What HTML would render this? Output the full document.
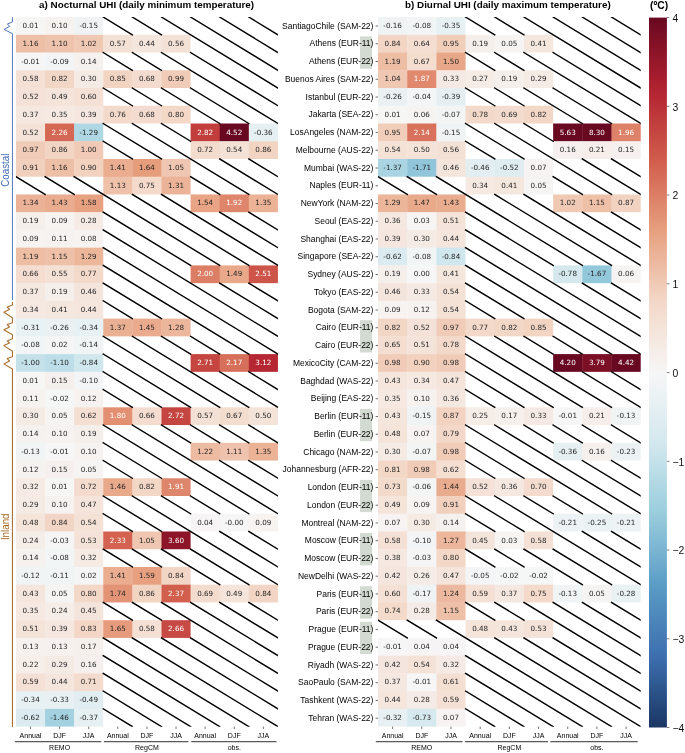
<!DOCTYPE html>
<html lang="en"><head><meta charset="utf-8"><title>UHI heatmaps</title>
<style>html,body{margin:0;padding:0;background:#fff}svg{display:block}</style>
</head><body>
<svg width="685" height="753" viewBox="0 0 685 753">
<rect width="685" height="753" fill="#fff"/>
<g><rect x="15.93" y="17.07" width="29.46" height="18.09" fill="#f6f6f5"/><rect x="45.04" y="17.07" width="29.46" height="18.09" fill="#f6f2f0"/><rect x="74.15" y="17.07" width="29.11" height="18.09" fill="#eff3f4"/><rect x="15.93" y="34.81" width="29.46" height="18.09" fill="#eebfa7"/><rect x="45.04" y="34.81" width="29.46" height="18.09" fill="#eec3ad"/><rect x="74.15" y="34.81" width="29.46" height="18.09" fill="#f0c9b4"/><rect x="103.26" y="34.81" width="29.46" height="17.74" fill="#f4e1d5"/><rect x="132.37" y="34.81" width="29.46" height="17.74" fill="#f4e5dd"/><rect x="161.49" y="34.81" width="29.11" height="17.74" fill="#f4e1d6"/><rect x="15.93" y="52.55" width="29.46" height="18.09" fill="#f6f6f6"/><rect x="45.04" y="52.55" width="29.46" height="18.09" fill="#f2f4f5"/><rect x="74.15" y="52.55" width="29.11" height="18.09" fill="#f5f1ee"/><rect x="15.93" y="70.28" width="29.46" height="18.09" fill="#f4e0d5"/><rect x="45.04" y="70.28" width="29.46" height="18.09" fill="#f3d7c6"/><rect x="74.15" y="70.28" width="29.46" height="18.09" fill="#f5ebe5"/><rect x="103.26" y="70.28" width="29.46" height="17.74" fill="#f2d4c3"/><rect x="132.37" y="70.28" width="29.46" height="17.74" fill="#f3dccf"/><rect x="161.49" y="70.28" width="29.11" height="17.74" fill="#f0cbb7"/><rect x="15.93" y="88.02" width="29.46" height="18.09" fill="#f4e2d8"/><rect x="45.04" y="88.02" width="29.46" height="18.09" fill="#f4e4da"/><rect x="74.15" y="88.02" width="29.11" height="18.09" fill="#f4e0d4"/><rect x="15.93" y="105.76" width="29.46" height="18.09" fill="#f5e8e1"/><rect x="45.04" y="105.76" width="29.46" height="18.09" fill="#f5e9e2"/><rect x="74.15" y="105.76" width="29.46" height="18.09" fill="#f5e7e0"/><rect x="103.26" y="105.76" width="29.46" height="17.74" fill="#f3daca"/><rect x="132.37" y="105.76" width="29.46" height="17.74" fill="#f3dccf"/><rect x="161.49" y="105.76" width="29.11" height="17.74" fill="#f3d8c8"/><rect x="15.93" y="123.5" width="29.46" height="18.09" fill="#f4e2d8"/><rect x="45.04" y="123.5" width="29.46" height="18.09" fill="#d56855"/><rect x="74.15" y="123.5" width="29.11" height="18.09" fill="#afd7e4"/><rect x="190.6" y="123.5" width="29.46" height="18.09" fill="#c13e3d"/><rect x="219.71" y="123.5" width="29.46" height="18.09" fill="#680821"/><rect x="248.82" y="123.5" width="29.11" height="18.09" fill="#e6f0f2"/><rect x="15.93" y="141.24" width="29.46" height="18.09" fill="#f0ccb8"/><rect x="45.04" y="141.24" width="29.46" height="18.09" fill="#f2d4c3"/><rect x="74.15" y="141.24" width="29.11" height="18.09" fill="#f0cab6"/><rect x="190.6" y="141.24" width="29.46" height="17.74" fill="#f3dbcd"/><rect x="219.71" y="141.24" width="29.46" height="17.74" fill="#f4e2d7"/><rect x="248.82" y="141.24" width="29.11" height="17.74" fill="#f2d4c3"/><rect x="15.93" y="158.98" width="29.46" height="17.74" fill="#f1d0be"/><rect x="45.04" y="158.98" width="29.46" height="17.74" fill="#eebfa7"/><rect x="74.15" y="158.98" width="29.46" height="17.74" fill="#f2d1bf"/><rect x="103.26" y="158.98" width="29.46" height="18.09" fill="#eaad90"/><rect x="132.37" y="158.98" width="29.46" height="18.09" fill="#e69d7c"/><rect x="161.49" y="158.98" width="29.11" height="18.09" fill="#efc6b1"/><rect x="103.26" y="176.71" width="29.46" height="17.74" fill="#eec1aa"/><rect x="132.37" y="176.71" width="29.46" height="17.74" fill="#f3dacb"/><rect x="161.49" y="176.71" width="29.11" height="17.74" fill="#ebb499"/><rect x="15.93" y="194.45" width="29.46" height="18.09" fill="#ebb297"/><rect x="45.04" y="194.45" width="29.46" height="18.09" fill="#eaac8f"/><rect x="74.15" y="194.45" width="29.11" height="18.09" fill="#e7a181"/><rect x="190.6" y="194.45" width="29.46" height="17.74" fill="#e8a484"/><rect x="219.71" y="194.45" width="29.46" height="17.74" fill="#de856b"/><rect x="248.82" y="194.45" width="29.11" height="17.74" fill="#ebb296"/><rect x="15.93" y="212.19" width="29.46" height="18.09" fill="#f5efeb"/><rect x="45.04" y="212.19" width="29.46" height="18.09" fill="#f6f3f1"/><rect x="74.15" y="212.19" width="29.11" height="18.09" fill="#f5ebe6"/><rect x="15.93" y="229.93" width="29.46" height="18.09" fill="#f6f3f1"/><rect x="45.04" y="229.93" width="29.46" height="18.09" fill="#f6f2f0"/><rect x="74.15" y="229.93" width="29.11" height="18.09" fill="#f6f3f1"/><rect x="15.93" y="247.67" width="29.46" height="18.09" fill="#edbda4"/><rect x="45.04" y="247.67" width="29.46" height="18.09" fill="#eec0a8"/><rect x="74.15" y="247.67" width="29.11" height="18.09" fill="#ecb69b"/><rect x="15.93" y="265.41" width="29.46" height="18.09" fill="#f4ddd0"/><rect x="45.04" y="265.41" width="29.46" height="18.09" fill="#f4e1d6"/><rect x="74.15" y="265.41" width="29.11" height="18.09" fill="#f3d9ca"/><rect x="190.6" y="265.41" width="29.46" height="17.74" fill="#dc7e66"/><rect x="219.71" y="265.41" width="29.46" height="17.74" fill="#e9a889"/><rect x="248.82" y="265.41" width="29.11" height="17.74" fill="#cd5448"/><rect x="15.93" y="283.14" width="29.46" height="18.09" fill="#f5e8e1"/><rect x="45.04" y="283.14" width="29.46" height="18.09" fill="#f5efeb"/><rect x="74.15" y="283.14" width="29.11" height="18.09" fill="#f4e5dc"/><rect x="15.93" y="300.88" width="29.46" height="18.09" fill="#f5e9e2"/><rect x="45.04" y="300.88" width="29.46" height="18.09" fill="#f4e7de"/><rect x="74.15" y="300.88" width="29.11" height="18.09" fill="#f4e5dd"/><rect x="15.93" y="318.62" width="29.46" height="18.09" fill="#e8f1f3"/><rect x="45.04" y="318.62" width="29.46" height="18.09" fill="#ebf1f3"/><rect x="74.15" y="318.62" width="29.46" height="18.09" fill="#e7f0f3"/><rect x="103.26" y="318.62" width="29.46" height="17.74" fill="#eab094"/><rect x="132.37" y="318.62" width="29.46" height="17.74" fill="#e9aa8d"/><rect x="161.49" y="318.62" width="29.11" height="17.74" fill="#ecb69c"/><rect x="15.93" y="336.36" width="29.46" height="18.09" fill="#f2f5f5"/><rect x="45.04" y="336.36" width="29.46" height="18.09" fill="#f6f5f5"/><rect x="74.15" y="336.36" width="29.11" height="18.09" fill="#f0f4f5"/><rect x="15.93" y="354.1" width="29.46" height="18.09" fill="#c4e1ea"/><rect x="45.04" y="354.1" width="29.46" height="18.09" fill="#bddee8"/><rect x="74.15" y="354.1" width="29.11" height="18.09" fill="#d0e7ed"/><rect x="190.6" y="354.1" width="29.46" height="17.74" fill="#c54641"/><rect x="219.71" y="354.1" width="29.46" height="17.74" fill="#d7705b"/><rect x="248.82" y="354.1" width="29.11" height="17.74" fill="#b52833"/><rect x="15.93" y="371.83" width="29.46" height="18.09" fill="#f6f6f5"/><rect x="45.04" y="371.83" width="29.46" height="18.09" fill="#f5f0ed"/><rect x="74.15" y="371.83" width="29.11" height="18.09" fill="#f2f4f5"/><rect x="15.93" y="389.57" width="29.46" height="18.09" fill="#f6f2f0"/><rect x="45.04" y="389.57" width="29.46" height="18.09" fill="#f5f6f6"/><rect x="74.15" y="389.57" width="29.11" height="18.09" fill="#f6f2ef"/><rect x="15.93" y="407.31" width="29.46" height="18.09" fill="#f5ebe5"/><rect x="45.04" y="407.31" width="29.46" height="18.09" fill="#f6f4f3"/><rect x="74.15" y="407.31" width="29.46" height="18.09" fill="#f4dfd2"/><rect x="103.26" y="407.31" width="29.46" height="17.74" fill="#e28f72"/><rect x="132.37" y="407.31" width="29.46" height="17.74" fill="#f4ddd0"/><rect x="161.49" y="407.31" width="29.46" height="17.74" fill="#c54541"/><rect x="190.6" y="407.31" width="29.46" height="17.74" fill="#f4e1d5"/><rect x="219.71" y="407.31" width="29.46" height="17.74" fill="#f3ddcf"/><rect x="248.82" y="407.31" width="29.11" height="17.74" fill="#f4e3d9"/><rect x="15.93" y="425.05" width="29.46" height="18.09" fill="#f5f1ee"/><rect x="45.04" y="425.05" width="29.46" height="18.09" fill="#f6f2f0"/><rect x="74.15" y="425.05" width="29.11" height="18.09" fill="#f5efeb"/><rect x="15.93" y="442.79" width="29.46" height="18.09" fill="#f0f4f5"/><rect x="45.04" y="442.79" width="29.46" height="18.09" fill="#f6f6f6"/><rect x="74.15" y="442.79" width="29.11" height="18.09" fill="#f6f2f0"/><rect x="190.6" y="442.79" width="29.46" height="17.74" fill="#edbba2"/><rect x="219.71" y="442.79" width="29.46" height="17.74" fill="#eec2ac"/><rect x="248.82" y="442.79" width="29.11" height="17.74" fill="#ebb296"/><rect x="15.93" y="460.53" width="29.46" height="18.09" fill="#f6f2ef"/><rect x="45.04" y="460.53" width="29.46" height="18.09" fill="#f5f0ed"/><rect x="74.15" y="460.53" width="29.11" height="18.09" fill="#f6f4f3"/><rect x="15.93" y="478.26" width="29.46" height="18.09" fill="#f5eae4"/><rect x="45.04" y="478.26" width="29.46" height="18.09" fill="#f6f6f5"/><rect x="74.15" y="478.26" width="29.46" height="18.09" fill="#f3dbcd"/><rect x="103.26" y="478.26" width="29.46" height="17.74" fill="#e9aa8c"/><rect x="132.37" y="478.26" width="29.46" height="17.74" fill="#f3d7c6"/><rect x="161.49" y="478.26" width="29.11" height="17.74" fill="#de866b"/><rect x="15.93" y="496" width="29.46" height="18.09" fill="#f5ebe5"/><rect x="45.04" y="496" width="29.46" height="18.09" fill="#f6f2f0"/><rect x="74.15" y="496" width="29.11" height="18.09" fill="#f4e4db"/><rect x="15.93" y="513.74" width="29.46" height="18.09" fill="#f4e4da"/><rect x="45.04" y="513.74" width="29.46" height="18.09" fill="#f2d5c4"/><rect x="74.15" y="513.74" width="29.11" height="18.09" fill="#f4e2d7"/><rect x="190.6" y="513.74" width="29.46" height="17.74" fill="#f6f4f4"/><rect x="219.71" y="513.74" width="29.46" height="17.74" fill="#f6f6f6"/><rect x="248.82" y="513.74" width="29.11" height="17.74" fill="#f6f3f1"/><rect x="15.93" y="531.48" width="29.46" height="18.09" fill="#f5ede8"/><rect x="45.04" y="531.48" width="29.46" height="18.09" fill="#f5f5f6"/><rect x="74.15" y="531.48" width="29.46" height="18.09" fill="#f4e2d8"/><rect x="103.26" y="531.48" width="29.46" height="17.74" fill="#d36250"/><rect x="132.37" y="531.48" width="29.46" height="17.74" fill="#efc6b1"/><rect x="161.49" y="531.48" width="29.11" height="17.74" fill="#8d1528"/><rect x="15.93" y="549.22" width="29.46" height="18.09" fill="#f5f1ee"/><rect x="45.04" y="549.22" width="29.46" height="18.09" fill="#f2f5f5"/><rect x="74.15" y="549.22" width="29.11" height="18.09" fill="#f5eae4"/><rect x="15.93" y="566.96" width="29.46" height="18.09" fill="#f1f4f5"/><rect x="45.04" y="566.96" width="29.46" height="18.09" fill="#f1f4f5"/><rect x="74.15" y="566.96" width="29.46" height="18.09" fill="#f6f5f5"/><rect x="103.26" y="566.96" width="29.46" height="18.09" fill="#eaad90"/><rect x="132.37" y="566.96" width="29.46" height="18.09" fill="#e7a180"/><rect x="161.49" y="566.96" width="29.11" height="18.09" fill="#f2d5c4"/><rect x="15.93" y="584.69" width="29.46" height="18.09" fill="#f4e6dd"/><rect x="45.04" y="584.69" width="29.46" height="18.09" fill="#f6f4f3"/><rect x="74.15" y="584.69" width="29.46" height="18.09" fill="#f3d8c8"/><rect x="103.26" y="584.69" width="29.46" height="17.74" fill="#e39476"/><rect x="132.37" y="584.69" width="29.46" height="17.74" fill="#f2d4c3"/><rect x="161.49" y="584.69" width="29.46" height="17.74" fill="#d25f4e"/><rect x="190.6" y="584.69" width="29.46" height="17.74" fill="#f3dcce"/><rect x="219.71" y="584.69" width="29.46" height="17.74" fill="#f4e4da"/><rect x="248.82" y="584.69" width="29.11" height="17.74" fill="#f2d5c4"/><rect x="15.93" y="602.43" width="29.46" height="18.09" fill="#f5e9e2"/><rect x="45.04" y="602.43" width="29.46" height="18.09" fill="#f5ede8"/><rect x="74.15" y="602.43" width="29.11" height="18.09" fill="#f4e5dc"/><rect x="15.93" y="620.17" width="29.46" height="18.09" fill="#f4e3d9"/><rect x="45.04" y="620.17" width="29.46" height="18.09" fill="#f5e7e0"/><rect x="74.15" y="620.17" width="29.46" height="18.09" fill="#f3d6c5"/><rect x="103.26" y="620.17" width="29.46" height="17.74" fill="#e69c7c"/><rect x="132.37" y="620.17" width="29.46" height="17.74" fill="#f4e0d5"/><rect x="161.49" y="620.17" width="29.11" height="17.74" fill="#c74943"/><rect x="15.93" y="637.91" width="29.46" height="18.09" fill="#f6f1ef"/><rect x="45.04" y="637.91" width="29.46" height="18.09" fill="#f6f1ef"/><rect x="74.15" y="637.91" width="29.11" height="18.09" fill="#f5f0ec"/><rect x="15.93" y="655.65" width="29.46" height="18.09" fill="#f5eee9"/><rect x="45.04" y="655.65" width="29.46" height="18.09" fill="#f5ebe5"/><rect x="74.15" y="655.65" width="29.11" height="18.09" fill="#f5f0ed"/><rect x="15.93" y="673.39" width="29.46" height="18.09" fill="#f4e0d4"/><rect x="45.04" y="673.39" width="29.46" height="18.09" fill="#f4e5dd"/><rect x="74.15" y="673.39" width="29.11" height="18.09" fill="#f3dbcd"/><rect x="15.93" y="691.12" width="29.46" height="18.09" fill="#e7f0f3"/><rect x="45.04" y="691.12" width="29.46" height="18.09" fill="#e8f0f3"/><rect x="74.15" y="691.12" width="29.11" height="18.09" fill="#e1edf1"/><rect x="15.93" y="708.86" width="29.46" height="17.74" fill="#dbebf0"/><rect x="45.04" y="708.86" width="29.46" height="17.74" fill="#a3d1e0"/><rect x="74.15" y="708.86" width="29.11" height="17.74" fill="#e6f0f2"/></g>
<clipPath id="ax1"><rect x="15.93" y="16.92" width="262" height="709.83"/></clipPath>
<path clip-path="url(#ax1)" d="M103.26 17.07L132.37 34.81M132.37 17.07L161.49 34.81M161.49 17.07L277.93 88.02M190.6 17.07L277.93 70.28M219.71 17.07L277.93 52.55M248.82 17.07L277.93 34.81M103.26 52.55L132.37 70.28M132.37 52.55L161.49 70.28M161.49 52.55L277.93 123.5M190.6 52.55L277.93 105.76M103.26 88.02L132.37 105.76M132.37 88.02L161.49 105.76M161.49 88.02L219.71 123.5M190.6 88.02L248.82 123.5M103.26 123.5L161.49 158.98M132.37 123.5L248.82 194.45M161.49 123.5L190.6 141.24M103.26 141.24L132.37 158.98M219.71 158.98L277.93 194.45M248.82 158.98L277.93 176.71M15.93 176.71L45.04 194.45M45.04 176.71L74.15 194.45M74.15 176.71L219.71 265.41M190.6 176.71L219.71 194.45M132.37 194.45L248.82 265.41M161.49 194.45L277.93 265.41M103.26 212.19L190.6 265.41M219.71 212.19L277.93 247.67M248.82 212.19L277.93 229.93M103.26 229.93L277.93 336.36M103.26 247.67L277.93 354.1M103.26 265.41L248.82 354.1M103.26 283.14L161.49 318.62M219.71 283.14L277.93 318.62M248.82 283.14L277.93 300.88M103.26 300.88L132.37 318.62M103.26 336.36L219.71 407.31M132.37 336.36L248.82 407.31M161.49 336.36L190.6 354.1M190.6 336.36L219.71 354.1M103.26 354.1L190.6 407.31M103.26 371.83L161.49 407.31M219.71 371.83L277.93 407.31M248.82 371.83L277.93 389.57M103.26 389.57L132.37 407.31M103.26 425.05L248.82 513.74M132.37 425.05L277.93 513.74M161.49 425.05L190.6 442.79M190.6 425.05L219.71 442.79M219.71 425.05L248.82 442.79M248.82 425.05L277.93 442.79M103.26 442.79L161.49 478.26M103.26 460.53L132.37 478.26M219.71 460.53L277.93 496M248.82 460.53L277.93 478.26M103.26 496L161.49 531.48M132.37 496L277.93 584.69M161.49 496L190.6 513.74M190.6 496L219.71 513.74M103.26 513.74L132.37 531.48M219.71 531.48L277.93 566.96M248.82 531.48L277.93 549.22M103.26 549.22L132.37 566.96M132.37 549.22L161.49 566.96M161.49 549.22L219.71 584.69M190.6 549.22L248.82 584.69M103.26 602.43L132.37 620.17M132.37 602.43L161.49 620.17M161.49 602.43L277.93 673.39M190.6 602.43L277.93 655.65M219.71 602.43L277.93 637.91M248.82 602.43L277.93 620.17M103.26 637.91L248.82 726.6M132.37 637.91L277.93 726.6M161.49 637.91L277.93 708.86M190.6 637.91L277.93 691.12M103.26 655.65L219.71 726.6M103.26 673.39L190.6 726.6M103.26 691.12L161.49 726.6M103.26 708.86L132.37 726.6" stroke="#000" stroke-width="1.42" stroke-linecap="square" fill="none"/>
<g font-family="DejaVu Sans, Liberation Sans, sans-serif" font-size="7.2" text-anchor="middle" fill="#262626">
<text x="30.49" y="28.09">0.01</text>
<text x="59.6" y="28.09">0.10</text>
<text x="88.71" y="28.09">-0.15</text>
<text x="30.49" y="45.83">1.16</text>
<text x="59.6" y="45.83">1.10</text>
<text x="88.71" y="45.83">1.02</text>
<text x="117.82" y="45.83">0.57</text>
<text x="146.93" y="45.83">0.44</text>
<text x="176.04" y="45.83">0.56</text>
<text x="30.49" y="63.57">-0.01</text>
<text x="59.6" y="63.57">-0.09</text>
<text x="88.71" y="63.57">0.14</text>
<text x="30.49" y="81.3">0.58</text>
<text x="59.6" y="81.3">0.82</text>
<text x="88.71" y="81.3">0.30</text>
<text x="117.82" y="81.3">0.85</text>
<text x="146.93" y="81.3">0.68</text>
<text x="176.04" y="81.3">0.99</text>
<text x="30.49" y="99.04">0.52</text>
<text x="59.6" y="99.04">0.49</text>
<text x="88.71" y="99.04">0.60</text>
<text x="30.49" y="116.78">0.37</text>
<text x="59.6" y="116.78">0.35</text>
<text x="88.71" y="116.78">0.39</text>
<text x="117.82" y="116.78">0.76</text>
<text x="146.93" y="116.78">0.68</text>
<text x="176.04" y="116.78">0.80</text>
<text x="30.49" y="134.52">0.52</text>
<text x="88.71" y="134.52">-1.29</text>
<text x="263.37" y="134.52">-0.36</text>
<text x="30.49" y="152.26">0.97</text>
<text x="59.6" y="152.26">0.86</text>
<text x="88.71" y="152.26">1.00</text>
<text x="205.15" y="152.26">0.72</text>
<text x="234.26" y="152.26">0.54</text>
<text x="263.37" y="152.26">0.86</text>
<text x="30.49" y="170">0.91</text>
<text x="59.6" y="170">1.16</text>
<text x="88.71" y="170">0.90</text>
<text x="117.82" y="170">1.41</text>
<text x="146.93" y="170">1.64</text>
<text x="176.04" y="170">1.05</text>
<text x="117.82" y="187.73">1.13</text>
<text x="146.93" y="187.73">0.75</text>
<text x="176.04" y="187.73">1.31</text>
<text x="30.49" y="205.47">1.34</text>
<text x="59.6" y="205.47">1.43</text>
<text x="88.71" y="205.47">1.58</text>
<text x="205.15" y="205.47">1.54</text>
<text x="263.37" y="205.47">1.35</text>
<text x="30.49" y="223.21">0.19</text>
<text x="59.6" y="223.21">0.09</text>
<text x="88.71" y="223.21">0.28</text>
<text x="30.49" y="240.95">0.09</text>
<text x="59.6" y="240.95">0.11</text>
<text x="88.71" y="240.95">0.08</text>
<text x="30.49" y="258.69">1.19</text>
<text x="59.6" y="258.69">1.15</text>
<text x="88.71" y="258.69">1.29</text>
<text x="30.49" y="276.42">0.66</text>
<text x="59.6" y="276.42">0.55</text>
<text x="88.71" y="276.42">0.77</text>
<text x="234.26" y="276.42">1.49</text>
<text x="30.49" y="294.16">0.37</text>
<text x="59.6" y="294.16">0.19</text>
<text x="88.71" y="294.16">0.46</text>
<text x="30.49" y="311.9">0.34</text>
<text x="59.6" y="311.9">0.41</text>
<text x="88.71" y="311.9">0.44</text>
<text x="30.49" y="329.64">-0.31</text>
<text x="59.6" y="329.64">-0.26</text>
<text x="88.71" y="329.64">-0.34</text>
<text x="117.82" y="329.64">1.37</text>
<text x="146.93" y="329.64">1.45</text>
<text x="176.04" y="329.64">1.28</text>
<text x="30.49" y="347.38">-0.08</text>
<text x="59.6" y="347.38">0.02</text>
<text x="88.71" y="347.38">-0.14</text>
<text x="30.49" y="365.12">-1.00</text>
<text x="59.6" y="365.12">-1.10</text>
<text x="88.71" y="365.12">-0.84</text>
<text x="30.49" y="382.85">0.01</text>
<text x="59.6" y="382.85">0.15</text>
<text x="88.71" y="382.85">-0.10</text>
<text x="30.49" y="400.59">0.11</text>
<text x="59.6" y="400.59">-0.02</text>
<text x="88.71" y="400.59">0.12</text>
<text x="30.49" y="418.33">0.30</text>
<text x="59.6" y="418.33">0.05</text>
<text x="88.71" y="418.33">0.62</text>
<text x="146.93" y="418.33">0.66</text>
<text x="205.15" y="418.33">0.57</text>
<text x="234.26" y="418.33">0.67</text>
<text x="263.37" y="418.33">0.50</text>
<text x="30.49" y="436.07">0.14</text>
<text x="59.6" y="436.07">0.10</text>
<text x="88.71" y="436.07">0.19</text>
<text x="30.49" y="453.81">-0.13</text>
<text x="59.6" y="453.81">-0.01</text>
<text x="88.71" y="453.81">0.10</text>
<text x="205.15" y="453.81">1.22</text>
<text x="234.26" y="453.81">1.11</text>
<text x="263.37" y="453.81">1.35</text>
<text x="30.49" y="471.55">0.12</text>
<text x="59.6" y="471.55">0.15</text>
<text x="88.71" y="471.55">0.05</text>
<text x="30.49" y="489.28">0.32</text>
<text x="59.6" y="489.28">0.01</text>
<text x="88.71" y="489.28">0.72</text>
<text x="117.82" y="489.28">1.46</text>
<text x="146.93" y="489.28">0.82</text>
<text x="30.49" y="507.02">0.29</text>
<text x="59.6" y="507.02">0.10</text>
<text x="88.71" y="507.02">0.47</text>
<text x="30.49" y="524.76">0.48</text>
<text x="59.6" y="524.76">0.84</text>
<text x="88.71" y="524.76">0.54</text>
<text x="205.15" y="524.76">0.04</text>
<text x="234.26" y="524.76">-0.00</text>
<text x="263.37" y="524.76">0.09</text>
<text x="30.49" y="542.5">0.24</text>
<text x="59.6" y="542.5">-0.03</text>
<text x="88.71" y="542.5">0.53</text>
<text x="146.93" y="542.5">1.05</text>
<text x="30.49" y="560.24">0.14</text>
<text x="59.6" y="560.24">-0.08</text>
<text x="88.71" y="560.24">0.32</text>
<text x="30.49" y="577.97">-0.12</text>
<text x="59.6" y="577.97">-0.11</text>
<text x="88.71" y="577.97">0.02</text>
<text x="117.82" y="577.97">1.41</text>
<text x="146.93" y="577.97">1.59</text>
<text x="176.04" y="577.97">0.84</text>
<text x="30.49" y="595.71">0.43</text>
<text x="59.6" y="595.71">0.05</text>
<text x="88.71" y="595.71">0.80</text>
<text x="117.82" y="595.71">1.74</text>
<text x="146.93" y="595.71">0.86</text>
<text x="205.15" y="595.71">0.69</text>
<text x="234.26" y="595.71">0.49</text>
<text x="263.37" y="595.71">0.84</text>
<text x="30.49" y="613.45">0.35</text>
<text x="59.6" y="613.45">0.24</text>
<text x="88.71" y="613.45">0.45</text>
<text x="30.49" y="631.19">0.51</text>
<text x="59.6" y="631.19">0.39</text>
<text x="88.71" y="631.19">0.83</text>
<text x="117.82" y="631.19">1.65</text>
<text x="146.93" y="631.19">0.58</text>
<text x="30.49" y="648.93">0.13</text>
<text x="59.6" y="648.93">0.13</text>
<text x="88.71" y="648.93">0.17</text>
<text x="30.49" y="666.67">0.22</text>
<text x="59.6" y="666.67">0.29</text>
<text x="88.71" y="666.67">0.16</text>
<text x="30.49" y="684.4">0.59</text>
<text x="59.6" y="684.4">0.44</text>
<text x="88.71" y="684.4">0.71</text>
<text x="30.49" y="702.14">-0.34</text>
<text x="59.6" y="702.14">-0.33</text>
<text x="88.71" y="702.14">-0.49</text>
<text x="30.49" y="719.88">-0.62</text>
<text x="59.6" y="719.88">-1.46</text>
<text x="88.71" y="719.88">-0.37</text>
</g>
<g font-family="DejaVu Sans, Liberation Sans, sans-serif" font-size="7.2" text-anchor="middle" fill="#ffffff">
<text x="59.6" y="134.52">2.26</text>
<text x="205.15" y="134.52">2.82</text>
<text x="234.26" y="134.52">4.52</text>
<text x="234.26" y="205.47">1.92</text>
<text x="205.15" y="276.42">2.00</text>
<text x="263.37" y="276.42">2.51</text>
<text x="205.15" y="365.12">2.71</text>
<text x="234.26" y="365.12">2.17</text>
<text x="263.37" y="365.12">3.12</text>
<text x="117.82" y="418.33">1.80</text>
<text x="176.04" y="418.33">2.72</text>
<text x="176.04" y="489.28">1.91</text>
<text x="117.82" y="542.5">2.33</text>
<text x="176.04" y="542.5">3.60</text>
<text x="176.04" y="595.71">2.37</text>
<text x="176.04" y="631.19">2.66</text>
</g>
<path d="M30.49 726.6v2.4M59.6 726.6v2.4M88.71 726.6v2.4M117.82 726.6v2.4M146.93 726.6v2.4M176.04 726.6v2.4M205.15 726.6v2.4M234.26 726.6v2.4M263.37 726.6v2.4" stroke="#333" stroke-width="0.7" fill="none"/>
<g font-family="Liberation Sans, Arial, Helvetica, sans-serif" font-size="7" text-anchor="middle" fill="#000">
<text x="30.49" y="738.1">Annual</text>
<text x="59.6" y="738.1">DJF</text>
<text x="88.71" y="738.1">JJA</text>
<text x="117.82" y="738.1">Annual</text>
<text x="146.93" y="738.1">DJF</text>
<text x="176.04" y="738.1">JJA</text>
<text x="205.15" y="738.1">Annual</text>
<text x="234.26" y="738.1">DJF</text>
<text x="263.37" y="738.1">JJA</text>
<text x="59.6" y="750.3">REMO</text>
<text x="146.93" y="750.3">RegCM</text>
<text x="234.26" y="750.3">obs.</text>
</g>
<g><rect x="378.03" y="17.07" width="29.54" height="18.09" fill="#eff3f4"/><rect x="407.22" y="17.07" width="29.54" height="18.09" fill="#f2f5f5"/><rect x="436.4" y="17.07" width="29.19" height="18.09" fill="#e7f0f2"/><rect x="378.03" y="34.81" width="29.54" height="18.09" fill="#f2d5c4"/><rect x="407.22" y="34.81" width="29.54" height="18.09" fill="#f4ded1"/><rect x="436.4" y="34.81" width="29.54" height="18.09" fill="#f1ceba"/><rect x="465.59" y="34.81" width="29.54" height="17.74" fill="#f5efeb"/><rect x="494.77" y="34.81" width="29.54" height="17.74" fill="#f6f4f3"/><rect x="523.96" y="34.81" width="29.19" height="17.74" fill="#f4e7de"/><rect x="378.03" y="52.55" width="29.54" height="18.09" fill="#edbda4"/><rect x="407.22" y="52.55" width="29.54" height="18.09" fill="#f3ddcf"/><rect x="436.4" y="52.55" width="29.19" height="18.09" fill="#e8a788"/><rect x="378.03" y="70.28" width="29.54" height="18.09" fill="#efc7b2"/><rect x="407.22" y="70.28" width="29.54" height="18.09" fill="#e0896e"/><rect x="436.4" y="70.28" width="29.54" height="18.09" fill="#f5eae3"/><rect x="465.59" y="70.28" width="29.54" height="17.74" fill="#f5ece6"/><rect x="494.77" y="70.28" width="29.54" height="17.74" fill="#f5efeb"/><rect x="523.96" y="70.28" width="29.19" height="17.74" fill="#f5ebe5"/><rect x="378.03" y="88.02" width="29.54" height="18.09" fill="#ebf1f3"/><rect x="407.22" y="88.02" width="29.54" height="18.09" fill="#f4f5f6"/><rect x="436.4" y="88.02" width="29.19" height="18.09" fill="#e5eff2"/><rect x="378.03" y="105.76" width="29.54" height="18.09" fill="#f6f6f5"/><rect x="407.22" y="105.76" width="29.54" height="18.09" fill="#f6f4f3"/><rect x="436.4" y="105.76" width="29.54" height="18.09" fill="#f3f5f5"/><rect x="465.59" y="105.76" width="29.54" height="17.74" fill="#f3d9c9"/><rect x="494.77" y="105.76" width="29.54" height="17.74" fill="#f3dcce"/><rect x="523.96" y="105.76" width="29.19" height="17.74" fill="#f3d7c6"/><rect x="378.03" y="123.5" width="29.54" height="18.09" fill="#f1ceba"/><rect x="407.22" y="123.5" width="29.54" height="18.09" fill="#d8725d"/><rect x="436.4" y="123.5" width="29.19" height="18.09" fill="#eff3f4"/><rect x="553.14" y="123.5" width="29.54" height="18.09" fill="#680821"/><rect x="582.33" y="123.5" width="29.54" height="18.09" fill="#680821"/><rect x="611.51" y="123.5" width="29.19" height="18.09" fill="#dd8168"/><rect x="378.03" y="141.24" width="29.54" height="18.09" fill="#f4e2d7"/><rect x="407.22" y="141.24" width="29.54" height="18.09" fill="#f4e3d9"/><rect x="436.4" y="141.24" width="29.19" height="18.09" fill="#f4e1d6"/><rect x="553.14" y="141.24" width="29.54" height="17.74" fill="#f5f0ed"/><rect x="582.33" y="141.24" width="29.54" height="17.74" fill="#f5eeea"/><rect x="611.51" y="141.24" width="29.19" height="17.74" fill="#f5f0ed"/><rect x="378.03" y="158.98" width="29.54" height="17.74" fill="#aad4e2"/><rect x="407.22" y="158.98" width="29.54" height="17.74" fill="#90c5da"/><rect x="436.4" y="158.98" width="29.54" height="17.74" fill="#f4e5dc"/><rect x="465.59" y="158.98" width="29.54" height="18.09" fill="#e2eef1"/><rect x="494.77" y="158.98" width="29.54" height="18.09" fill="#dfedf1"/><rect x="523.96" y="158.98" width="29.19" height="18.09" fill="#f6f3f2"/><rect x="465.59" y="176.71" width="29.54" height="17.74" fill="#f5e9e2"/><rect x="494.77" y="176.71" width="29.54" height="17.74" fill="#f4e7de"/><rect x="523.96" y="176.71" width="29.19" height="17.74" fill="#f6f4f3"/><rect x="378.03" y="194.45" width="29.54" height="18.09" fill="#ecb69b"/><rect x="407.22" y="194.45" width="29.54" height="18.09" fill="#e9a98b"/><rect x="436.4" y="194.45" width="29.19" height="18.09" fill="#eaac8f"/><rect x="553.14" y="194.45" width="29.54" height="17.74" fill="#f0c9b4"/><rect x="582.33" y="194.45" width="29.54" height="17.74" fill="#eec0a8"/><rect x="611.51" y="194.45" width="29.19" height="17.74" fill="#f2d3c2"/><rect x="378.03" y="212.19" width="29.54" height="18.09" fill="#f5e8e1"/><rect x="407.22" y="212.19" width="29.54" height="18.09" fill="#f6f5f4"/><rect x="436.4" y="212.19" width="29.19" height="18.09" fill="#f4e3d9"/><rect x="378.03" y="229.93" width="29.54" height="18.09" fill="#f5e7e0"/><rect x="407.22" y="229.93" width="29.54" height="18.09" fill="#f5ebe5"/><rect x="436.4" y="229.93" width="29.19" height="18.09" fill="#f4e5dd"/><rect x="378.03" y="247.67" width="29.54" height="18.09" fill="#dbebf0"/><rect x="407.22" y="247.67" width="29.54" height="18.09" fill="#f2f5f5"/><rect x="436.4" y="247.67" width="29.19" height="18.09" fill="#d0e7ed"/><rect x="378.03" y="265.41" width="29.54" height="18.09" fill="#f5efeb"/><rect x="407.22" y="265.41" width="29.54" height="18.09" fill="#f6f6f6"/><rect x="436.4" y="265.41" width="29.19" height="18.09" fill="#f4e7de"/><rect x="553.14" y="265.41" width="29.54" height="17.74" fill="#d4e8ee"/><rect x="582.33" y="265.41" width="29.54" height="17.74" fill="#93c8db"/><rect x="611.51" y="265.41" width="29.19" height="17.74" fill="#f6f4f3"/><rect x="378.03" y="283.14" width="29.54" height="18.09" fill="#f4e5dc"/><rect x="407.22" y="283.14" width="29.54" height="18.09" fill="#f5eae3"/><rect x="436.4" y="283.14" width="29.19" height="18.09" fill="#f4e2d7"/><rect x="378.03" y="300.88" width="29.54" height="18.09" fill="#f6f3f1"/><rect x="407.22" y="300.88" width="29.54" height="18.09" fill="#f6f2ef"/><rect x="436.4" y="300.88" width="29.19" height="18.09" fill="#f4e2d7"/><rect x="378.03" y="318.62" width="29.54" height="18.09" fill="#f3d7c6"/><rect x="407.22" y="318.62" width="29.54" height="18.09" fill="#f4e2d8"/><rect x="436.4" y="318.62" width="29.54" height="18.09" fill="#f0ccb8"/><rect x="465.59" y="318.62" width="29.54" height="17.74" fill="#f3d9ca"/><rect x="494.77" y="318.62" width="29.54" height="17.74" fill="#f3d7c6"/><rect x="523.96" y="318.62" width="29.19" height="17.74" fill="#f2d4c3"/><rect x="378.03" y="336.36" width="29.54" height="18.09" fill="#f4ded1"/><rect x="407.22" y="336.36" width="29.54" height="18.09" fill="#f4e3d9"/><rect x="436.4" y="336.36" width="29.19" height="18.09" fill="#f3d9c9"/><rect x="378.03" y="354.1" width="29.54" height="18.09" fill="#f0cbb8"/><rect x="407.22" y="354.1" width="29.54" height="18.09" fill="#f2d1bf"/><rect x="436.4" y="354.1" width="29.19" height="18.09" fill="#f0cbb8"/><rect x="553.14" y="354.1" width="29.54" height="17.74" fill="#680821"/><rect x="582.33" y="354.1" width="29.54" height="17.74" fill="#7b0f25"/><rect x="611.51" y="354.1" width="29.19" height="17.74" fill="#680821"/><rect x="378.03" y="371.83" width="29.54" height="18.09" fill="#f4e6dd"/><rect x="407.22" y="371.83" width="29.54" height="18.09" fill="#f5e9e2"/><rect x="436.4" y="371.83" width="29.19" height="18.09" fill="#f4e4db"/><rect x="378.03" y="389.57" width="29.54" height="18.09" fill="#f5e9e2"/><rect x="407.22" y="389.57" width="29.54" height="18.09" fill="#f6f2f0"/><rect x="436.4" y="389.57" width="29.19" height="18.09" fill="#f5e8e1"/><rect x="378.03" y="407.31" width="29.54" height="18.09" fill="#f4e6dd"/><rect x="407.22" y="407.31" width="29.54" height="18.09" fill="#eff3f4"/><rect x="436.4" y="407.31" width="29.54" height="18.09" fill="#f2d3c2"/><rect x="465.59" y="407.31" width="29.54" height="17.74" fill="#f5ede8"/><rect x="494.77" y="407.31" width="29.54" height="17.74" fill="#f5f0ec"/><rect x="523.96" y="407.31" width="29.54" height="17.74" fill="#f5eae3"/><rect x="553.14" y="407.31" width="29.54" height="17.74" fill="#f6f6f6"/><rect x="582.33" y="407.31" width="29.54" height="17.74" fill="#f5eeea"/><rect x="611.51" y="407.31" width="29.19" height="17.74" fill="#f0f4f5"/><rect x="378.03" y="425.05" width="29.54" height="18.09" fill="#f4e4da"/><rect x="407.22" y="425.05" width="29.54" height="18.09" fill="#f6f3f2"/><rect x="436.4" y="425.05" width="29.19" height="18.09" fill="#f3d8c9"/><rect x="378.03" y="442.79" width="29.54" height="18.09" fill="#f5ebe5"/><rect x="407.22" y="442.79" width="29.54" height="18.09" fill="#f3f5f5"/><rect x="436.4" y="442.79" width="29.19" height="18.09" fill="#f0cbb8"/><rect x="553.14" y="442.79" width="29.54" height="17.74" fill="#e6f0f2"/><rect x="582.33" y="442.79" width="29.54" height="17.74" fill="#f5f0ed"/><rect x="611.51" y="442.79" width="29.19" height="17.74" fill="#ecf2f4"/><rect x="378.03" y="460.53" width="29.54" height="18.09" fill="#f3d7c7"/><rect x="407.22" y="460.53" width="29.54" height="18.09" fill="#f0cbb8"/><rect x="436.4" y="460.53" width="29.19" height="18.09" fill="#f4dfd2"/><rect x="378.03" y="478.26" width="29.54" height="18.09" fill="#f3dbcc"/><rect x="407.22" y="478.26" width="29.54" height="18.09" fill="#f3f5f5"/><rect x="436.4" y="478.26" width="29.54" height="18.09" fill="#e9ab8e"/><rect x="465.59" y="478.26" width="29.54" height="17.74" fill="#f4e2d8"/><rect x="494.77" y="478.26" width="29.54" height="17.74" fill="#f5e8e1"/><rect x="523.96" y="478.26" width="29.19" height="17.74" fill="#f3dcce"/><rect x="378.03" y="496" width="29.54" height="18.09" fill="#f4e4da"/><rect x="407.22" y="496" width="29.54" height="18.09" fill="#f6f3f1"/><rect x="436.4" y="496" width="29.19" height="18.09" fill="#f1d0be"/><rect x="378.03" y="513.74" width="29.54" height="18.09" fill="#f6f3f2"/><rect x="407.22" y="513.74" width="29.54" height="18.09" fill="#f5ebe5"/><rect x="436.4" y="513.74" width="29.19" height="18.09" fill="#f5f1ee"/><rect x="553.14" y="513.74" width="29.54" height="17.74" fill="#edf2f4"/><rect x="582.33" y="513.74" width="29.54" height="17.74" fill="#ebf2f4"/><rect x="611.51" y="513.74" width="29.19" height="17.74" fill="#edf2f4"/><rect x="378.03" y="531.48" width="29.54" height="18.09" fill="#f4e0d5"/><rect x="407.22" y="531.48" width="29.54" height="18.09" fill="#f2f4f5"/><rect x="436.4" y="531.48" width="29.54" height="18.09" fill="#ecb79d"/><rect x="465.59" y="531.48" width="29.54" height="17.74" fill="#f4e5dc"/><rect x="494.77" y="531.48" width="29.54" height="17.74" fill="#f6f5f4"/><rect x="523.96" y="531.48" width="29.19" height="17.74" fill="#f4e0d5"/><rect x="378.03" y="549.22" width="29.54" height="18.09" fill="#f5e8e0"/><rect x="407.22" y="549.22" width="29.54" height="18.09" fill="#f5f5f6"/><rect x="436.4" y="549.22" width="29.19" height="18.09" fill="#f3d8c8"/><rect x="378.03" y="566.96" width="29.54" height="18.09" fill="#f4e6de"/><rect x="407.22" y="566.96" width="29.54" height="18.09" fill="#f5ece7"/><rect x="436.4" y="566.96" width="29.54" height="18.09" fill="#f4e4db"/><rect x="465.59" y="566.96" width="29.54" height="18.09" fill="#f4f5f6"/><rect x="494.77" y="566.96" width="29.54" height="18.09" fill="#f5f6f6"/><rect x="523.96" y="566.96" width="29.19" height="18.09" fill="#f5f6f6"/><rect x="378.03" y="584.69" width="29.54" height="18.09" fill="#f4e0d4"/><rect x="407.22" y="584.69" width="29.54" height="18.09" fill="#eff3f4"/><rect x="436.4" y="584.69" width="29.54" height="18.09" fill="#ecb9a0"/><rect x="465.59" y="584.69" width="29.54" height="17.74" fill="#f4e0d4"/><rect x="494.77" y="584.69" width="29.54" height="17.74" fill="#f5e8e1"/><rect x="523.96" y="584.69" width="29.54" height="17.74" fill="#f3dacb"/><rect x="553.14" y="584.69" width="29.54" height="17.74" fill="#f0f4f5"/><rect x="582.33" y="584.69" width="29.54" height="17.74" fill="#f6f4f3"/><rect x="611.51" y="584.69" width="29.19" height="17.74" fill="#eaf1f3"/><rect x="378.03" y="602.43" width="29.54" height="17.74" fill="#f3dacb"/><rect x="407.22" y="602.43" width="29.54" height="17.74" fill="#f5ebe6"/><rect x="436.4" y="602.43" width="29.19" height="17.74" fill="#eec0a8"/><rect x="465.59" y="620.17" width="29.54" height="17.74" fill="#f4e4da"/><rect x="494.77" y="620.17" width="29.54" height="17.74" fill="#f4e6dd"/><rect x="523.96" y="620.17" width="29.19" height="17.74" fill="#f4e2d8"/><rect x="378.03" y="637.91" width="29.54" height="18.09" fill="#f6f6f6"/><rect x="407.22" y="637.91" width="29.54" height="18.09" fill="#f6f4f4"/><rect x="436.4" y="637.91" width="29.19" height="18.09" fill="#f6f4f4"/><rect x="378.03" y="655.65" width="29.54" height="18.09" fill="#f4e6de"/><rect x="407.22" y="655.65" width="29.54" height="18.09" fill="#f4e2d7"/><rect x="436.4" y="655.65" width="29.19" height="18.09" fill="#f5eae4"/><rect x="378.03" y="673.39" width="29.54" height="18.09" fill="#f5e8e1"/><rect x="407.22" y="673.39" width="29.54" height="18.09" fill="#f6f6f6"/><rect x="436.4" y="673.39" width="29.19" height="18.09" fill="#f4dfd3"/><rect x="378.03" y="691.12" width="29.54" height="18.09" fill="#f4e5dd"/><rect x="407.22" y="691.12" width="29.54" height="18.09" fill="#f5ebe6"/><rect x="436.4" y="691.12" width="29.19" height="18.09" fill="#f4e0d4"/><rect x="378.03" y="708.86" width="29.54" height="17.74" fill="#e8f0f3"/><rect x="407.22" y="708.86" width="29.54" height="17.74" fill="#d6e9ef"/><rect x="436.4" y="708.86" width="29.19" height="17.74" fill="#f6f3f2"/></g>
<clipPath id="ax2"><rect x="378.03" y="16.92" width="262.67" height="709.83"/></clipPath>
<path clip-path="url(#ax2)" d="M465.59 17.07L494.77 34.81M494.77 17.07L523.96 34.81M523.96 17.07L640.7 88.02M553.14 17.07L640.7 70.28M582.33 17.07L640.7 52.55M611.51 17.07L640.7 34.81M465.59 52.55L494.77 70.28M494.77 52.55L523.96 70.28M523.96 52.55L640.7 123.5M553.14 52.55L640.7 105.76M465.59 88.02L494.77 105.76M494.77 88.02L523.96 105.76M523.96 88.02L582.33 123.5M553.14 88.02L611.51 123.5M465.59 123.5L523.96 158.98M494.77 123.5L611.51 194.45M523.96 123.5L553.14 141.24M465.59 141.24L494.77 158.98M582.33 158.98L640.7 194.45M611.51 158.98L640.7 176.71M378.03 176.71L407.22 194.45M407.22 176.71L436.4 194.45M436.4 176.71L582.33 265.41M553.14 176.71L582.33 194.45M494.77 194.45L611.51 265.41M523.96 194.45L640.7 265.41M465.59 212.19L553.14 265.41M582.33 212.19L640.7 247.67M611.51 212.19L640.7 229.93M465.59 229.93L640.7 336.36M465.59 247.67L640.7 354.1M465.59 265.41L611.51 354.1M465.59 283.14L523.96 318.62M582.33 283.14L640.7 318.62M611.51 283.14L640.7 300.88M465.59 300.88L494.77 318.62M465.59 336.36L582.33 407.31M494.77 336.36L611.51 407.31M523.96 336.36L553.14 354.1M553.14 336.36L582.33 354.1M465.59 354.1L553.14 407.31M465.59 371.83L523.96 407.31M582.33 371.83L640.7 407.31M611.51 371.83L640.7 389.57M465.59 389.57L494.77 407.31M465.59 425.05L611.51 513.74M494.77 425.05L640.7 513.74M523.96 425.05L553.14 442.79M553.14 425.05L582.33 442.79M582.33 425.05L611.51 442.79M611.51 425.05L640.7 442.79M465.59 442.79L523.96 478.26M465.59 460.53L494.77 478.26M582.33 460.53L640.7 496M611.51 460.53L640.7 478.26M465.59 496L523.96 531.48M494.77 496L640.7 584.69M523.96 496L553.14 513.74M553.14 496L582.33 513.74M465.59 513.74L494.77 531.48M582.33 531.48L640.7 566.96M611.51 531.48L640.7 549.22M465.59 549.22L494.77 566.96M494.77 549.22L523.96 566.96M523.96 549.22L582.33 584.69M553.14 549.22L611.51 584.69M465.59 602.43L494.77 620.17M494.77 602.43L523.96 620.17M523.96 602.43L640.7 673.39M553.14 602.43L640.7 655.65M582.33 602.43L640.7 637.91M611.51 602.43L640.7 620.17M378.03 620.17L407.22 637.91M407.22 620.17L436.4 637.91M436.4 620.17L611.51 726.6M494.77 637.91L640.7 726.6M523.96 637.91L640.7 708.86M553.14 637.91L640.7 691.12M465.59 655.65L582.33 726.6M465.59 673.39L553.14 726.6M465.59 691.12L523.96 726.6M465.59 708.86L494.77 726.6" stroke="#000" stroke-width="1.42" stroke-linecap="square" fill="none"/>
<g font-family="DejaVu Sans, Liberation Sans, sans-serif" font-size="7.2" text-anchor="middle" fill="#262626">
<text x="392.62" y="28.09">-0.16</text>
<text x="421.81" y="28.09">-0.08</text>
<text x="450.99" y="28.09">-0.35</text>
<text x="392.62" y="45.83">0.84</text>
<text x="421.81" y="45.83">0.64</text>
<text x="450.99" y="45.83">0.95</text>
<text x="480.18" y="45.83">0.19</text>
<text x="509.37" y="45.83">0.05</text>
<text x="538.55" y="45.83">0.41</text>
<text x="392.62" y="63.57">1.19</text>
<text x="421.81" y="63.57">0.67</text>
<text x="450.99" y="63.57">1.50</text>
<text x="392.62" y="81.3">1.04</text>
<text x="450.99" y="81.3">0.33</text>
<text x="480.18" y="81.3">0.27</text>
<text x="509.37" y="81.3">0.19</text>
<text x="538.55" y="81.3">0.29</text>
<text x="392.62" y="99.04">-0.26</text>
<text x="421.81" y="99.04">-0.04</text>
<text x="450.99" y="99.04">-0.39</text>
<text x="392.62" y="116.78">0.01</text>
<text x="421.81" y="116.78">0.06</text>
<text x="450.99" y="116.78">-0.07</text>
<text x="480.18" y="116.78">0.78</text>
<text x="509.37" y="116.78">0.69</text>
<text x="538.55" y="116.78">0.82</text>
<text x="392.62" y="134.52">0.95</text>
<text x="450.99" y="134.52">-0.15</text>
<text x="392.62" y="152.26">0.54</text>
<text x="421.81" y="152.26">0.50</text>
<text x="450.99" y="152.26">0.56</text>
<text x="567.74" y="152.26">0.16</text>
<text x="596.92" y="152.26">0.21</text>
<text x="626.11" y="152.26">0.15</text>
<text x="392.62" y="170">-1.37</text>
<text x="421.81" y="170">-1.71</text>
<text x="450.99" y="170">0.46</text>
<text x="480.18" y="170">-0.46</text>
<text x="509.37" y="170">-0.52</text>
<text x="538.55" y="170">0.07</text>
<text x="480.18" y="187.73">0.34</text>
<text x="509.37" y="187.73">0.41</text>
<text x="538.55" y="187.73">0.05</text>
<text x="392.62" y="205.47">1.29</text>
<text x="421.81" y="205.47">1.47</text>
<text x="450.99" y="205.47">1.43</text>
<text x="567.74" y="205.47">1.02</text>
<text x="596.92" y="205.47">1.15</text>
<text x="626.11" y="205.47">0.87</text>
<text x="392.62" y="223.21">0.36</text>
<text x="421.81" y="223.21">0.03</text>
<text x="450.99" y="223.21">0.51</text>
<text x="392.62" y="240.95">0.39</text>
<text x="421.81" y="240.95">0.30</text>
<text x="450.99" y="240.95">0.44</text>
<text x="392.62" y="258.69">-0.62</text>
<text x="421.81" y="258.69">-0.08</text>
<text x="450.99" y="258.69">-0.84</text>
<text x="392.62" y="276.42">0.19</text>
<text x="421.81" y="276.42">0.00</text>
<text x="450.99" y="276.42">0.41</text>
<text x="567.74" y="276.42">-0.78</text>
<text x="596.92" y="276.42">-1.67</text>
<text x="626.11" y="276.42">0.06</text>
<text x="392.62" y="294.16">0.46</text>
<text x="421.81" y="294.16">0.33</text>
<text x="450.99" y="294.16">0.54</text>
<text x="392.62" y="311.9">0.09</text>
<text x="421.81" y="311.9">0.12</text>
<text x="450.99" y="311.9">0.54</text>
<text x="392.62" y="329.64">0.82</text>
<text x="421.81" y="329.64">0.52</text>
<text x="450.99" y="329.64">0.97</text>
<text x="480.18" y="329.64">0.77</text>
<text x="509.37" y="329.64">0.82</text>
<text x="538.55" y="329.64">0.85</text>
<text x="392.62" y="347.38">0.65</text>
<text x="421.81" y="347.38">0.51</text>
<text x="450.99" y="347.38">0.78</text>
<text x="392.62" y="365.12">0.98</text>
<text x="421.81" y="365.12">0.90</text>
<text x="450.99" y="365.12">0.98</text>
<text x="392.62" y="382.85">0.43</text>
<text x="421.81" y="382.85">0.34</text>
<text x="450.99" y="382.85">0.47</text>
<text x="392.62" y="400.59">0.35</text>
<text x="421.81" y="400.59">0.10</text>
<text x="450.99" y="400.59">0.36</text>
<text x="392.62" y="418.33">0.43</text>
<text x="421.81" y="418.33">-0.15</text>
<text x="450.99" y="418.33">0.87</text>
<text x="480.18" y="418.33">0.25</text>
<text x="509.37" y="418.33">0.17</text>
<text x="538.55" y="418.33">0.33</text>
<text x="567.74" y="418.33">-0.01</text>
<text x="596.92" y="418.33">0.21</text>
<text x="626.11" y="418.33">-0.13</text>
<text x="392.62" y="436.07">0.48</text>
<text x="421.81" y="436.07">0.07</text>
<text x="450.99" y="436.07">0.79</text>
<text x="392.62" y="453.81">0.30</text>
<text x="421.81" y="453.81">-0.07</text>
<text x="450.99" y="453.81">0.98</text>
<text x="567.74" y="453.81">-0.36</text>
<text x="596.92" y="453.81">0.16</text>
<text x="626.11" y="453.81">-0.23</text>
<text x="392.62" y="471.55">0.81</text>
<text x="421.81" y="471.55">0.98</text>
<text x="450.99" y="471.55">0.62</text>
<text x="392.62" y="489.28">0.73</text>
<text x="421.81" y="489.28">-0.06</text>
<text x="450.99" y="489.28">1.44</text>
<text x="480.18" y="489.28">0.52</text>
<text x="509.37" y="489.28">0.36</text>
<text x="538.55" y="489.28">0.70</text>
<text x="392.62" y="507.02">0.49</text>
<text x="421.81" y="507.02">0.09</text>
<text x="450.99" y="507.02">0.91</text>
<text x="392.62" y="524.76">0.07</text>
<text x="421.81" y="524.76">0.30</text>
<text x="450.99" y="524.76">0.14</text>
<text x="567.74" y="524.76">-0.21</text>
<text x="596.92" y="524.76">-0.25</text>
<text x="626.11" y="524.76">-0.21</text>
<text x="392.62" y="542.5">0.58</text>
<text x="421.81" y="542.5">-0.10</text>
<text x="450.99" y="542.5">1.27</text>
<text x="480.18" y="542.5">0.45</text>
<text x="509.37" y="542.5">0.03</text>
<text x="538.55" y="542.5">0.58</text>
<text x="392.62" y="560.24">0.38</text>
<text x="421.81" y="560.24">-0.03</text>
<text x="450.99" y="560.24">0.80</text>
<text x="392.62" y="577.97">0.42</text>
<text x="421.81" y="577.97">0.26</text>
<text x="450.99" y="577.97">0.47</text>
<text x="480.18" y="577.97">-0.05</text>
<text x="509.37" y="577.97">-0.02</text>
<text x="538.55" y="577.97">-0.02</text>
<text x="392.62" y="595.71">0.60</text>
<text x="421.81" y="595.71">-0.17</text>
<text x="450.99" y="595.71">1.24</text>
<text x="480.18" y="595.71">0.59</text>
<text x="509.37" y="595.71">0.37</text>
<text x="538.55" y="595.71">0.75</text>
<text x="567.74" y="595.71">-0.13</text>
<text x="596.92" y="595.71">0.05</text>
<text x="626.11" y="595.71">-0.28</text>
<text x="392.62" y="613.45">0.74</text>
<text x="421.81" y="613.45">0.28</text>
<text x="450.99" y="613.45">1.15</text>
<text x="480.18" y="631.19">0.48</text>
<text x="509.37" y="631.19">0.43</text>
<text x="538.55" y="631.19">0.53</text>
<text x="392.62" y="648.93">-0.01</text>
<text x="421.81" y="648.93">0.04</text>
<text x="450.99" y="648.93">0.04</text>
<text x="392.62" y="666.67">0.42</text>
<text x="421.81" y="666.67">0.54</text>
<text x="450.99" y="666.67">0.32</text>
<text x="392.62" y="684.4">0.37</text>
<text x="421.81" y="684.4">-0.01</text>
<text x="450.99" y="684.4">0.61</text>
<text x="392.62" y="702.14">0.44</text>
<text x="421.81" y="702.14">0.28</text>
<text x="450.99" y="702.14">0.59</text>
<text x="392.62" y="719.88">-0.32</text>
<text x="421.81" y="719.88">-0.73</text>
<text x="450.99" y="719.88">0.07</text>
</g>
<g font-family="DejaVu Sans, Liberation Sans, sans-serif" font-size="7.2" text-anchor="middle" fill="#ffffff">
<text x="421.81" y="81.3">1.87</text>
<text x="421.81" y="134.52">2.14</text>
<text x="567.74" y="134.52">5.63</text>
<text x="596.92" y="134.52">8.30</text>
<text x="626.11" y="134.52">1.96</text>
<text x="567.74" y="365.12">4.20</text>
<text x="596.92" y="365.12">3.79</text>
<text x="626.11" y="365.12">4.42</text>
</g>
<path d="M392.62 726.6v2.4M421.81 726.6v2.4M450.99 726.6v2.4M480.18 726.6v2.4M509.37 726.6v2.4M538.55 726.6v2.4M567.74 726.6v2.4M596.92 726.6v2.4M626.11 726.6v2.4" stroke="#333" stroke-width="0.7" fill="none"/>
<g font-family="Liberation Sans, Arial, Helvetica, sans-serif" font-size="7" text-anchor="middle" fill="#000">
<text x="392.62" y="738.1">Annual</text>
<text x="421.81" y="738.1">DJF</text>
<text x="450.99" y="738.1">JJA</text>
<text x="480.18" y="738.1">Annual</text>
<text x="509.37" y="738.1">DJF</text>
<text x="538.55" y="738.1">JJA</text>
<text x="567.74" y="738.1">Annual</text>
<text x="596.92" y="738.1">DJF</text>
<text x="626.11" y="738.1">JJA</text>
<text x="421.81" y="750.3">REMO</text>
<text x="509.37" y="750.3">RegCM</text>
<text x="596.92" y="750.3">obs.</text>
</g>
<path d="M14.9 741.6H101.3M103.9 741.6H188.4M191.2 741.6H276.5M375.8 741.6H462.5M464.9 741.6H548.1M550.4 741.6H637.7" stroke="#5a5a5a" stroke-width="1.05" fill="none"/>
<g font-family="Liberation Sans, Arial, Helvetica, sans-serif" font-weight="bold" font-size="9.86" fill="#000">
<text x="39.1" y="8.4">a) Nocturnal UHI (daily minimum temperature)</text>
<text x="405.0" y="8.4">b) Diurnal UHI (daily maximum temperature)</text>
<text x="659.1" y="8.6" text-anchor="middle" font-size="10.3">(ºC)</text>
</g>
<rect x="360.04" y="36.41" width="11.96" height="32.28" fill="#d3dad1"/>
<rect x="360.04" y="320.22" width="11.96" height="32.28" fill="#d3dad1"/>
<rect x="360.04" y="408.91" width="11.96" height="32.28" fill="#d3dad1"/>
<rect x="360.04" y="479.86" width="11.96" height="32.28" fill="#d3dad1"/>
<rect x="360.04" y="533.08" width="11.96" height="32.28" fill="#d3dad1"/>
<rect x="360.04" y="586.29" width="11.96" height="32.28" fill="#d3dad1"/>
<rect x="360.04" y="621.77" width="11.96" height="32.28" fill="#d3dad1"/>
<g font-family="Liberation Sans, Arial, Helvetica, sans-serif" font-size="8.47" text-anchor="end" fill="#000">
<text x="373.4" y="28.54">SantiagoChile (SAM-22)</text>
<text x="373.4" y="46.3">Athens (EUR-11)</text>
<text x="373.4" y="64.05">Athens (EUR-22)</text>
<text x="373.4" y="81.81">Buenos Aires (SAM-22)</text>
<text x="373.4" y="99.56">Istanbul (EUR-22)</text>
<text x="373.4" y="117.31">Jakarta (SEA-22)</text>
<text x="373.4" y="135.07">LosAngeles (NAM-22)</text>
<text x="373.4" y="152.82">Melbourne (AUS-22)</text>
<text x="373.4" y="170.58">Mumbai (WAS-22)</text>
<text x="373.4" y="188.33">Naples (EUR-11)</text>
<text x="373.4" y="206.09">NewYork (NAM-22)</text>
<text x="373.4" y="223.84">Seoul (EAS-22)</text>
<text x="373.4" y="241.6">Shanghai (EAS-22)</text>
<text x="373.4" y="259.36">Singapore (SEA-22)</text>
<text x="373.4" y="277.11">Sydney (AUS-22)</text>
<text x="373.4" y="294.87">Tokyo (EAS-22)</text>
<text x="373.4" y="312.62">Bogota (SAM-22)</text>
<text x="373.4" y="330.38">Cairo (EUR-11)</text>
<text x="373.4" y="348.13">Cairo (EUR-22)</text>
<text x="373.4" y="365.88">MexicoCity (CAM-22)</text>
<text x="373.4" y="383.64">Baghdad (WAS-22)</text>
<text x="373.4" y="401.39">Beijing (EAS-22)</text>
<text x="373.4" y="419.15">Berlin (EUR-11)</text>
<text x="373.4" y="436.9">Berlin (EUR-22)</text>
<text x="373.4" y="454.66">Chicago (NAM-22)</text>
<text x="373.4" y="472.42">Johannesburg (AFR-22)</text>
<text x="373.4" y="490.17">London (EUR-11)</text>
<text x="373.4" y="507.93">London (EUR-22)</text>
<text x="373.4" y="525.68">Montreal (NAM-22)</text>
<text x="373.4" y="543.43">Moscow (EUR-11)</text>
<text x="373.4" y="561.19">Moscow (EUR-22)</text>
<text x="373.4" y="578.94">NewDelhi (WAS-22)</text>
<text x="373.4" y="596.7">Paris (EUR-11)</text>
<text x="373.4" y="614.45">Paris (EUR-22)</text>
<text x="373.4" y="632.21">Prague (EUR-11)</text>
<text x="373.4" y="649.96">Prague (EUR-22)</text>
<text x="373.4" y="667.72">Riyadh (WAS-22)</text>
<text x="373.4" y="685.47">SaoPaulo (SAM-22)</text>
<text x="373.4" y="703.23">Tashkent (WAS-22)</text>
<text x="373.4" y="720.98">Tehran (WAS-22)</text>
</g>
<path d="M375.6 26.04H378.03M375.6 43.79H378.03M375.6 61.53H378.03M375.6 79.28H378.03M375.6 97.03H378.03M375.6 114.78H378.03M375.6 132.52H378.03M375.6 150.27H378.03M375.6 168.02H378.03M375.6 185.76H378.03M375.6 203.51H378.03M375.6 221.26H378.03M375.6 239.01H378.03M375.6 256.75H378.03M375.6 274.5H378.03M375.6 292.25H378.03M375.6 310H378.03M375.6 327.74H378.03M375.6 345.49H378.03M375.6 363.24H378.03M375.6 380.98H378.03M375.6 398.73H378.03M375.6 416.48H378.03M375.6 434.23H378.03M375.6 451.97H378.03M375.6 469.72H378.03M375.6 487.47H378.03M375.6 505.21H378.03M375.6 522.96H378.03M375.6 540.71H378.03M375.6 558.46H378.03M375.6 576.2H378.03M375.6 593.95H378.03M375.6 611.7H378.03M375.6 629.45H378.03M375.6 647.19H378.03M375.6 664.94H378.03M375.6 682.69H378.03M375.6 700.43H378.03M375.6 718.18H378.03" stroke="#333" stroke-width="0.7" fill="none"/>
<path d="M12.43 17.17L12.43 21.97L7.4 23.97L9.6 26.37L4 29.37L12.43 33.67L12.43 300.2" stroke="#4f78bd" stroke-width="1.0" fill="none" stroke-linejoin="round"/>
<path d="M12.43 301.9L12.43 305L7.2 307L9.5 309.3L3.9 312.3L12.43 317.7L12.43 322.8L7.2 324.5L9.5 326.9L3.9 329.8L12.43 334.7L12.43 338.7L7.2 340.9L9.5 343L3.9 345.6L12.43 351.2L12.43 356.8L7.2 358.6L9.5 361L3.9 363.9L12.43 369L12.43 726.9" stroke="#ab7130" stroke-width="1.1" fill="none" stroke-linejoin="round"/>
<text font-family="Liberation Sans, Arial, Helvetica, sans-serif" font-size="10.2" fill="#4470b8" text-anchor="middle" textLength="33" lengthAdjust="spacingAndGlyphs" transform="translate(9.4 170.2) rotate(-90)">Coastal</text>
<text font-family="Liberation Sans, Arial, Helvetica, sans-serif" font-size="10.2" fill="#a5691f" text-anchor="middle" textLength="26.6" lengthAdjust="spacingAndGlyphs" transform="translate(8.8 526.8) rotate(-90)">Inland</text>
<defs><linearGradient id="cb" x1="0" y1="0" x2="0" y2="1"><stop offset="0%" stop-color="#680821"/><stop offset="1.56%" stop-color="#740c23"/><stop offset="3.12%" stop-color="#7f1026"/><stop offset="4.69%" stop-color="#8b1428"/><stop offset="6.25%" stop-color="#96182a"/><stop offset="7.81%" stop-color="#a21c2d"/><stop offset="9.38%" stop-color="#ad202f"/><stop offset="10.94%" stop-color="#b52733"/><stop offset="12.5%" stop-color="#ba3037"/><stop offset="14.06%" stop-color="#bf3a3b"/><stop offset="15.62%" stop-color="#c34340"/><stop offset="17.19%" stop-color="#c84c44"/><stop offset="18.75%" stop-color="#cd5548"/><stop offset="20.31%" stop-color="#d25e4e"/><stop offset="21.88%" stop-color="#d56956"/><stop offset="23.44%" stop-color="#d9735e"/><stop offset="25%" stop-color="#dc7e66"/><stop offset="26.56%" stop-color="#df896d"/><stop offset="28.12%" stop-color="#e39375"/><stop offset="29.69%" stop-color="#e69e7d"/><stop offset="31.25%" stop-color="#e8a788"/><stop offset="32.81%" stop-color="#eab094"/><stop offset="34.38%" stop-color="#ecb89f"/><stop offset="35.94%" stop-color="#eec1aa"/><stop offset="37.5%" stop-color="#f0cab6"/><stop offset="39.06%" stop-color="#f2d3c1"/><stop offset="40.62%" stop-color="#f3dacb"/><stop offset="42.19%" stop-color="#f4dfd2"/><stop offset="43.75%" stop-color="#f4e3d9"/><stop offset="45.31%" stop-color="#f5e8e0"/><stop offset="46.88%" stop-color="#f5ede8"/><stop offset="48.44%" stop-color="#f6f1ef"/><stop offset="50%" stop-color="#f6f6f6"/><stop offset="51.56%" stop-color="#f1f4f5"/><stop offset="53.12%" stop-color="#ebf2f4"/><stop offset="54.69%" stop-color="#e6eff2"/><stop offset="56.25%" stop-color="#e0edf1"/><stop offset="57.81%" stop-color="#dbebf0"/><stop offset="59.38%" stop-color="#d5e9ee"/><stop offset="60.94%" stop-color="#cee5ec"/><stop offset="62.5%" stop-color="#c4e1ea"/><stop offset="64.06%" stop-color="#bbdde7"/><stop offset="65.62%" stop-color="#b2d8e4"/><stop offset="67.19%" stop-color="#a9d4e2"/><stop offset="68.75%" stop-color="#a0d0df"/><stop offset="70.31%" stop-color="#97cadc"/><stop offset="71.88%" stop-color="#8dc3d8"/><stop offset="73.44%" stop-color="#83bcd5"/><stop offset="75%" stop-color="#7ab4d1"/><stop offset="76.56%" stop-color="#70accd"/><stop offset="78.12%" stop-color="#66a5ca"/><stop offset="79.69%" stop-color="#5c9ec6"/><stop offset="81.25%" stop-color="#5696c2"/><stop offset="82.81%" stop-color="#528fbf"/><stop offset="84.38%" stop-color="#4d88bb"/><stop offset="85.94%" stop-color="#4981b8"/><stop offset="87.5%" stop-color="#447ab4"/><stop offset="89.06%" stop-color="#4073b1"/><stop offset="90.62%" stop-color="#3b6baa"/><stop offset="92.19%" stop-color="#36639f"/><stop offset="93.75%" stop-color="#305a93"/><stop offset="95.31%" stop-color="#2b5187"/><stop offset="96.88%" stop-color="#26487b"/><stop offset="98.44%" stop-color="#203f70"/><stop offset="100%" stop-color="#1b3664"/></linearGradient></defs>
<rect x="649.0" y="17.6" width="17.9" height="709.9" fill="url(#cb)"/>
<g font-family="Liberation Sans, Arial, Helvetica, sans-serif" font-size="10.4" fill="#111">
<text x="672.4" y="22">4</text>
<text x="672.4" y="110.74">3</text>
<text x="672.4" y="199.47">2</text>
<text x="672.4" y="288.21">1</text>
<text x="672.4" y="376.95">0</text>
<text x="672.4" y="465.69">−1</text>
<text x="672.4" y="554.42">−2</text>
<text x="672.4" y="643.16">−3</text>
<text x="672.4" y="731.9">−4</text>
</g>
<path d="M666.9 17.6h2.5M666.9 106.34h2.5M666.9 195.07h2.5M666.9 283.81h2.5M666.9 372.55h2.5M666.9 461.29h2.5M666.9 550.02h2.5M666.9 638.76h2.5M666.9 727.5h2.5" stroke="#444" stroke-width="0.7" fill="none"/>
</svg>
</body></html>
